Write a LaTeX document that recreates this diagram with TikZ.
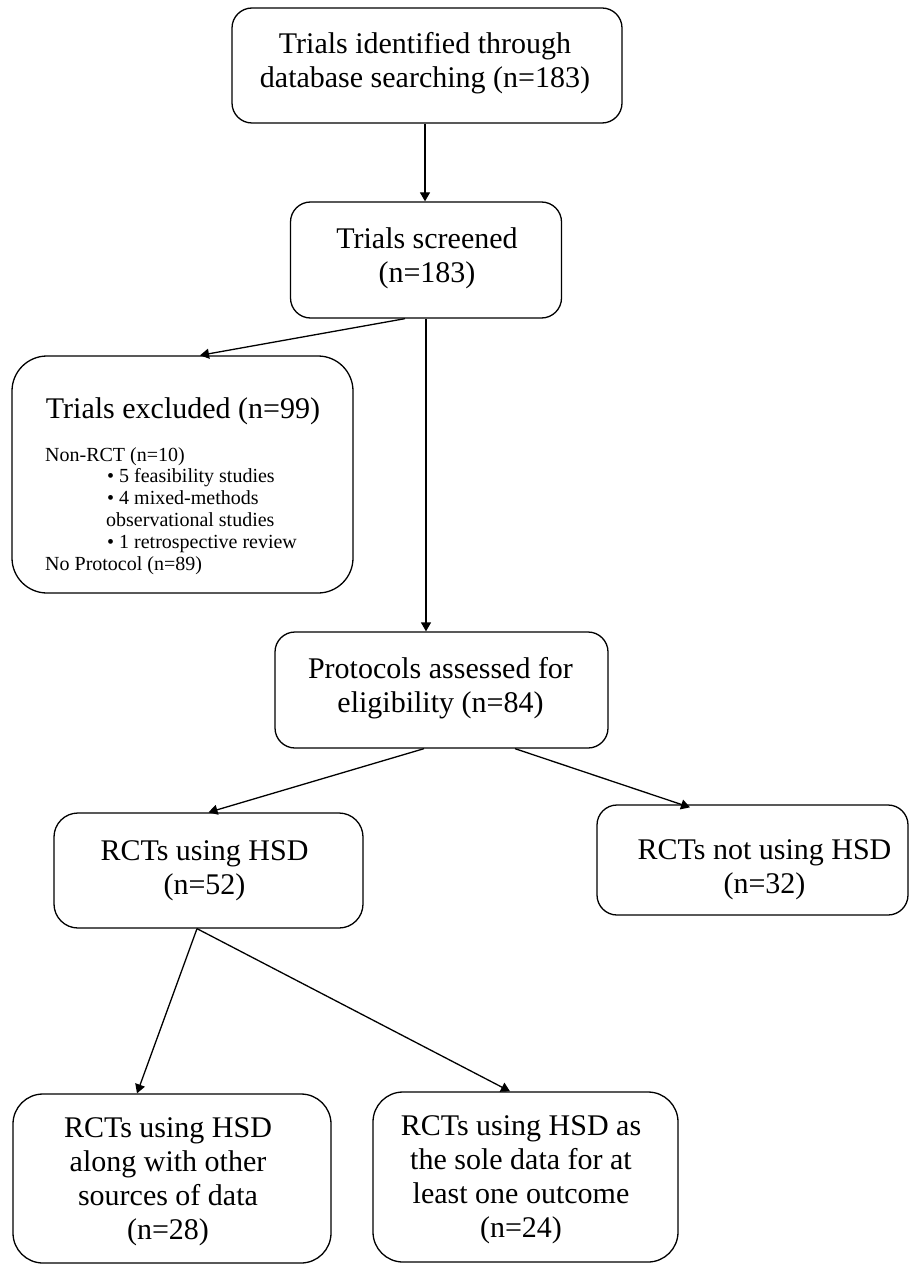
\documentclass[tikz,border=0pt]{standalone}
\usepackage{fontspec}
\setmainfont{Liberation Serif}
\usetikzlibrary{arrows.meta}
\begin{document}
\begin{tikzpicture}[x=1pt,y=-1pt,
  box/.style={draw, line width=1.3pt, rounded corners=20pt, inner sep=0pt, fill=white},
  txt/.style={align=center, inner sep=0pt, font=\fontsize{30}{34}\selectfont},
  arr/.style={line width=1.3pt, -{Triangle[length=9pt,width=10pt]}}]
\useasboundingbox (0,0) rectangle (909,1265);
% boxes
\node[box, minimum width=390pt, minimum height=115pt] (b1) at (427,65.5) {};
\node[box, minimum width=271pt, minimum height=116pt] (b2) at (426,260) {};
\node[box, rounded corners=35pt, minimum width=341pt, minimum height=237pt] (b3) at (182.5,474.5) {};
\node[box, minimum width=333pt, minimum height=116pt] (b4) at (441.5,690) {};
\node[box, rounded corners=24pt, minimum width=309pt, minimum height=115pt] (b5) at (208.5,870.5) {};
\node[box, minimum width=311pt, minimum height=110pt] (b6) at (752.5,860) {};
\node[box, rounded corners=30pt, minimum width=318pt, minimum height=169pt] (b7) at (172,1178.5) {};
\node[box, rounded corners=30pt, minimum width=305pt, minimum height=170pt] (b8) at (525.5,1177) {};
% texts
\node[txt] (t1) at (425,63.7) {\strut Trials identified through\\database searching (n=183)\strut};
\node[txt] (t2) at (427,258.2) {\strut Trials screened\\(n=183)\strut};
\node[txt, anchor=base] (t3) at (183,418) {Trials excluded (n=99)};
\node[anchor=north west, align=left, inner sep=0pt, font=\fontsize{20}{21.8}\selectfont] (t3l) at (45,445.7)
  {\strut Non-RCT (n=10)\\
   \hspace*{62pt}• 5 feasibility studies\\
   \hspace*{62pt}• 4 mixed-methods\\
   \hspace*{61pt}observational studies\\
   \hspace*{62pt}• 1 retrospective review\\
   No Protocol (n=89)};
\node[txt] (t4) at (440.5,688.2) {\strut Protocols assessed for\\eligibility (n=84)\strut};
\node[txt] (t5) at (204.5,870.7) {\strut RCTs using HSD\\(n=52)\strut};
\node[txt] (t6) at (764.5,869.2) {\strut RCTs not using HSD\\(n=32)\strut};
\node[txt] (t7) at (168,1181.7) {\strut RCTs using HSD\\along with other\\sources of data\\(n=28)\strut};
\node[txt] (t8) at (521,1179.2) {\strut RCTs using HSD as\\the sole data for at\\least one outcome\\(n=24)\strut};
% connectors
\draw[arr] ([xshift=-2pt]b1.south) -- ([xshift=-2pt]b1.south |- b2.north);
\draw[arr] ([xshift=-21pt]b2.south) -- ([xshift=17.5pt]b3.north);
\draw[arr] (b2.south) -- (b2.south |- b4.north);
\draw[arr] ([xshift=-17.5pt]b4.south) -- (b5.north);
\draw[arr] ([xshift=73.5pt]b4.south) -- ([xshift=-62.5pt,yshift=-3pt]b6.north);
\draw[arr] ([xshift=-11.5pt]b5.south) -- ([xshift=-35pt]b7.north);
\draw[arr] ([xshift=-11.5pt]b5.south) -- ([xshift=-15.5pt]b8.north);
\end{tikzpicture}
\end{document}
